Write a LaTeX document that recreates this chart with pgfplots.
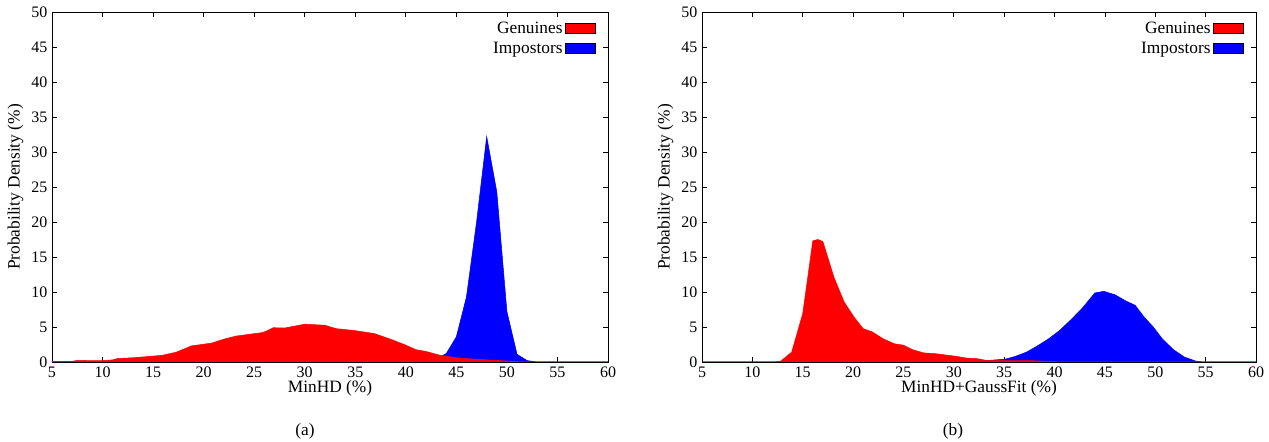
\documentclass[border=0pt]{standalone}
\usepackage{fontspec}
\setmainfont{Liberation Serif}
\usepackage{pgfplots}
\pgfplotsset{compat=1.18}

\pgfplotstableread{
x y
5 0.1
7 0.1
7.6 0.25
8.5 0.2
10 0.2
11 0.3
11.5 0.5
13 0.6
15.9 0.95
17.3 1.4
18.8 2.3
20.8 2.7
22.1 3.3
23.2 3.7
25.8 4.2
26.2 4.4
26.9 4.9
28 4.85
30 5.4
32 5.25
33.1 4.76
34.9 4.5
36.9 4.05
38.6 3.2
40 2.4
41 1.76
42 1.5
43.4 0.95
45.2 0.57
47.7 0.33
49.9 0.15
51.4 0.05
52 0
60 0
}\genA

\pgfplotstableread{
x y
5 0
41 0
42 0.1
43 0.5
44 1.2
45 3.6
46 9.3
47 20
48 32.2
49 24.3
50 7.2
51 1.1
52 0.2
53 0
60 0
}\impA

\pgfplotstableread{
x y
5 0
12.1 0
12.8 0.1
13.9 1.4
15 6.9
16 17.3
16.5 17.5
17 17.2
18.1 12.1
19.1 8.6
20.1 6.4
21 4.76
21.9 4.3
23 3.3
24.1 2.6
25 2.4
25.9 1.76
27 1.3
28.1 1.2
30.3 0.8
31.2 0.57
32.3 0.48
33.2 0.24
35 0.2
37.6 0.2
40 0.05
41 0
60 0
}\genB

\pgfplotstableread{
x y
5 0
32 0
33.2 0.2
35.1 0.4
36.1 0.8
37.2 1.4
38.3 2.3
39.4 3.3
40.5 4.5
41.6 6.0
42.7 7.6
44 9.86
44.9 10.1
46 9.6
47.1 8.7
48 8.1
48.9 6.4
49.8 5.0
50.7 3.3
51.8 1.76
52.9 0.7
54 0.14
54.7 0
60 0
}\impB

\pgfplotsset{
  gp/.style={
    scale only axis,
    height=262.5pt,
    xmin=5, xmax=60, ymin=0, ymax=50,
    xtick={5,10,...,60},
    ytick={0,5,...,50},
    tick align=inside,
    major tick length=4pt,
    tick style={black, line width=0.5pt},
    axis line style={line width=0.6pt},
    /pgf/number format/assume math mode=true,
    tick label style={font=\fontsize{12}{14}\selectfont},
    label style={font=\fontsize{13}{15}\selectfont},
    ylabel={Probability Density (\%)},
    ylabel style={yshift=-1pt},
    xlabel style={yshift=5pt},
    legend style={draw=none, fill=none, at={(rel axis cs:1,1)}, anchor=north east,
      xshift=-6pt, yshift=-3pt, font=\fontsize{13}{15}\selectfont,
      row sep=1pt},
    legend cell align=right,
    legend plot pos=right,
    legend image code/.code={\fill[##1] (0pt,-3.6pt) rectangle (22.5pt,3.6pt);},
  },
}

\begin{document}
\begin{tikzpicture}
\path[use as bounding box] (0,0) rectangle (951.75pt,331.5pt);

\begin{axis}[gp, at={(39pt,60pt)}, anchor=south west, width=417pt,
  xlabel={MinHD (\%)}]
\addplot[fill=blue, draw=blue, forget plot] table[x=x,y=y] {\impA} \closedcycle;
\addplot[fill=red, draw=red, forget plot] table[x=x,y=y] {\genA} \closedcycle;
\addlegendimage{fill=red}
\addlegendentry{Genuines}
\addlegendimage{fill=blue}
\addlegendentry{Impostors}
\end{axis}

\begin{axis}[gp, at={(526.5pt,60pt)}, anchor=south west, width=415.5pt,
  xlabel={MinHD+GaussFit (\%)}]
\addplot[fill=blue, draw=blue, forget plot] table[x=x,y=y] {\impB} \closedcycle;
\addplot[fill=red, draw=red, forget plot] table[x=x,y=y] {\genB} \closedcycle;
\addlegendimage{fill=red}
\addlegendentry{Genuines}
\addlegendimage{fill=blue}
\addlegendentry{Impostors}
\end{axis}

\node[font=\fontsize{13}{15}\selectfont] at (228.75pt,8.25pt) {(a)};
\node[font=\fontsize{13}{15}\selectfont] at (714.75pt,8.25pt) {(b)};
\end{tikzpicture}
\end{document}
